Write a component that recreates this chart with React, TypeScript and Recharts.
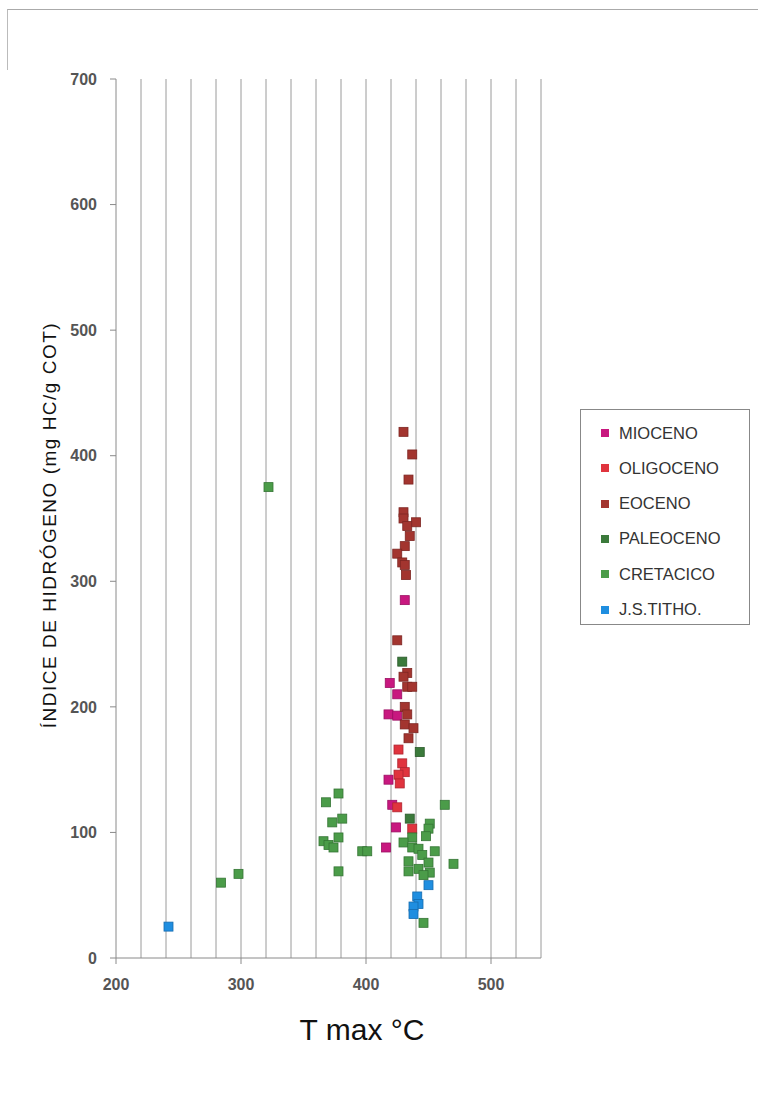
import React from "react";
import { ScatterChart, Scatter, XAxis, YAxis, ReferenceLine } from "recharts";

const miocenoData = [
  { x: 431, y: 285 }, { x: 419, y: 219 }, { x: 425, y: 210 }, { x: 418, y: 194 },
  { x: 425, y: 193 }, { x: 418, y: 142 }, { x: 421, y: 122 }, { x: 424, y: 104 },
  { x: 416, y: 88 },
];
const oligocenoData = [
  { x: 426, y: 166 }, { x: 429, y: 155 }, { x: 431, y: 148 }, { x: 426, y: 146 },
  { x: 427, y: 139 }, { x: 425, y: 120 }, { x: 437, y: 103 },
];
const eocenoData = [
  { x: 430, y: 419 }, { x: 437, y: 401 }, { x: 434, y: 381 }, { x: 430, y: 355 },
  { x: 430, y: 350 }, { x: 440, y: 347 }, { x: 433, y: 344 }, { x: 435, y: 336 },
  { x: 431, y: 328 }, { x: 425, y: 322 }, { x: 429, y: 315 }, { x: 431, y: 313 },
  { x: 432, y: 305 }, { x: 425, y: 253 }, { x: 433, y: 227 }, { x: 430, y: 224 },
  { x: 433, y: 216 }, { x: 437, y: 216 }, { x: 431, y: 200 }, { x: 433, y: 194 },
  { x: 431, y: 186 }, { x: 438, y: 183 }, { x: 434, y: 175 },
];
const paleocenoData = [
  { x: 429, y: 236 }, { x: 443, y: 164 }, { x: 435, y: 111 },
];
const cretacicoData = [
  { x: 322, y: 375 }, { x: 284, y: 60 }, { x: 298, y: 67 }, { x: 378, y: 131 },
  { x: 368, y: 124 }, { x: 381, y: 111 }, { x: 373, y: 108 }, { x: 378, y: 96 },
  { x: 366, y: 93 }, { x: 370, y: 90 }, { x: 374, y: 88 }, { x: 378, y: 69 },
  { x: 397, y: 85 }, { x: 401, y: 85 }, { x: 463, y: 122 }, { x: 451, y: 107 },
  { x: 450, y: 103 }, { x: 448, y: 97 }, { x: 437, y: 96 }, { x: 430, y: 92 },
  { x: 437, y: 88 }, { x: 442, y: 87 }, { x: 445, y: 82 }, { x: 455, y: 85 },
  { x: 434, y: 77 }, { x: 450, y: 76 }, { x: 470, y: 75 }, { x: 442, y: 71 },
  { x: 434, y: 69 }, { x: 451, y: 68 }, { x: 446, y: 66 }, { x: 446, y: 28 },
];
const tithoData = [
  { x: 242, y: 25 }, { x: 450, y: 58 }, { x: 441, y: 49 }, { x: 442, y: 43 },
  { x: 438, y: 41 }, { x: 438, y: 35 },
];

const seriesNames = ["MIOCENO", "OLIGOCENO", "EOCENO", "PALEOCENO", "CRETACICO", "J.S.TITHO."];
const seriesColors = ["#c8187f", "#e0343e", "#a3352f", "#3b7a3b", "#4b9c49", "#1f8ee0"];
const seriesStrokes = ["#9c1063", "#b02530", "#7d2622", "#2a5a2a", "#357535", "#166cb0"];
const seriesData = [miocenoData, oligocenoData, eocenoData, paleocenoData, cretacicoData, tithoData];

const xTicks = [200, 300, 400, 500];
const yTicks = [0, 100, 200, 300, 400, 500, 600, 700];
const gridX = [220, 240, 260, 280, 300, 320, 340, 360, 380, 400, 420, 440, 460, 480, 500, 520, 540];

const FONT = "'Liberation Sans', Arial, sans-serif";

const makeSquare = (fill: string, stroke: string) => (props: any) => {
  const { cx, cy } = props;
  return <rect x={cx - 4.5} y={cy - 4.5} width={9} height={9} fill={fill} stroke={stroke} strokeWidth={0.8} />;
};

export default function App() {
  return (
    <div style={{ position: "relative", width: 758, height: 1099, background: "#fff", fontFamily: FONT }}>
      <style>{"body{margin:0;background:#fff}"}</style>
      <div style={{ position: "absolute", left: 7, top: 9, width: 751, height: 60, borderTop: "1px solid #aaa", borderLeft: "1px solid #bbb" }} />
      <ScatterChart
        width={758}
        height={1099}
        margin={{ top: 79, right: 217, bottom: 81, left: 46 }}
      >
        {gridX.map((v) => (
          <ReferenceLine key={v} x={v} stroke="#9a9a9a" strokeWidth={1} ifOverflow="visible" />
        ))}
        <XAxis
          type="number"
          dataKey="x"
          domain={[200, 540]}
          ticks={xTicks}
          height={60}
          tickSize={6}
          tickMargin={15}
          stroke="#8a8a8a"
          tick={{ fill: "#555", fontSize: 16, fontWeight: "bold", fontFamily: FONT }}
          allowDataOverflow
          label={{
            value: "T max °C",
            content: () => (
              <text x={362} y={1040} textAnchor="middle" fontSize={30} fill="#111" fontFamily={FONT}>
                T max °C
              </text>
            ),
          }}
        />
        <YAxis
          type="number"
          dataKey="y"
          domain={[0, 700]}
          ticks={yTicks}
          width={70}
          tickSize={6}
          tickMargin={13}
          stroke="#8a8a8a"
          tick={{ fill: "#555", fontSize: 16, fontWeight: "bold", fontFamily: FONT }}
          allowDataOverflow
          label={{
            value: "ÍNDICE DE HIDRÓGENO (mg HC/g COT)",
            content: () => (
              <text
                x={49}
                y={525}
                transform="rotate(-90, 49, 525)"
                textAnchor="middle"
                dominantBaseline="central"
                fontSize={19}
                letterSpacing={1.5}
                fill="#111"
                fontFamily={FONT}
              >
                ÍNDICE DE HIDRÓGENO (mg HC/g COT)
              </text>
            ),
          }}
        />
        {seriesData.map((d, i) => (
          <Scatter
            key={seriesNames[i]}
            name={seriesNames[i]}
            data={d}
            fill={seriesColors[i]}
            isAnimationActive={false}
            shape={makeSquare(seriesColors[i], seriesStrokes[i])}
          />
        ))}
      </ScatterChart>
      <div
        style={{
          position: "absolute",
          left: 580,
          top: 409,
          width: 170,
          height: 216,
          border: "1px solid #888",
          boxSizing: "border-box",
        }}
      >
        {seriesNames.map((n, i) => (
          <div
            key={n}
            style={{
              position: "absolute",
              left: 20,
              top: 23 + i * 35.3 - 11,
              height: 22,
              display: "flex",
              alignItems: "center",
              fontSize: 16.5,
              color: "#333",
              whiteSpace: "nowrap",
            }}
          >
            <span style={{ display: "inline-block", width: 8, height: 8, background: seriesColors[i], marginRight: 10 }} />
            {n}
          </div>
        ))}
      </div>
    </div>
  );
}
